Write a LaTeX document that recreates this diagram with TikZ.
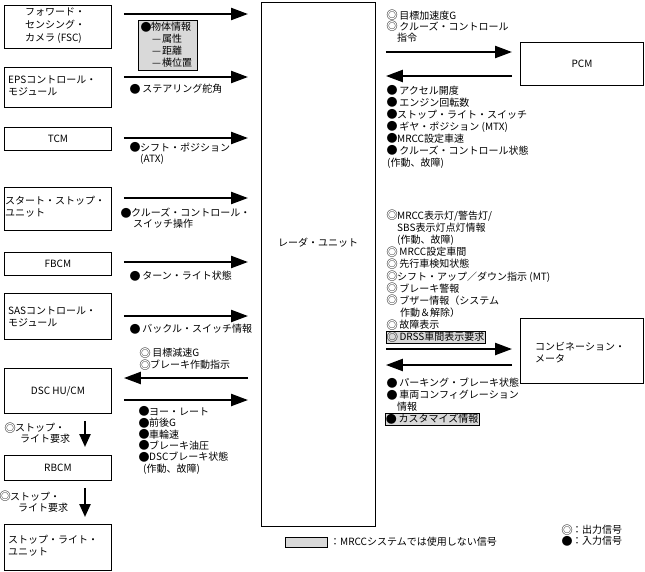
\documentclass[tikz,border=0pt]{standalone}
\usepackage{fontspec}
\setmainfont{Noto Sans CJK JP}
\usetikzlibrary{arrows.meta}
\newcommand\myblt{\makebox[10pt]{\raisebox{-0.4pt}{\fontsize{11}{12}\selectfont ●}}}
\newcommand\mydc{\makebox[10pt]{\raisebox{-0.4pt}{\fontsize{11.5}{12}\selectfont ◎}}}
\begin{document}
\begin{tikzpicture}[x=1pt,y=-1pt,
  every node/.style={inner sep=0pt, font=\fontsize{10}{12}\selectfont},
  box/.style={draw, line width=0.9pt, anchor=north west},
  gbox/.style={draw, line width=0.6pt, fill=gray!30},
  lbl/.style={anchor=west, align=left},
  arr/.style={line width=2.3pt, -{Triangle[length=17pt,width=12pt]}},
  darr/.style={line width=2.3pt, -{Triangle[length=13pt,width=11pt]}}]
\useasboundingbox (0,0) rectangle (645,571);

% ---------- boxes ----------
\node[box, minimum width=107, minimum height=43] (fsc)  at (4,5) {};
\node[box, minimum width=107, minimum height=40] (eps)  at (4,67) {};
\node[box, minimum width=107, minimum height=23] (tcm)  at (4,127) {TCM};
\node[box, minimum width=107, minimum height=43] (ss)   at (4,187) {};
\node[box, minimum width=107, minimum height=23] (fbcm) at (4,252) {FBCM};
\node[box, minimum width=107, minimum height=46] (sas)  at (4,293) {};
\node[box, minimum width=107, minimum height=45] (dsc)  at (4,368) {DSC HU/CM};
\node[box, minimum width=107, minimum height=25] (rbcm) at (4,455) {RBCM};
\node[box, minimum width=107, minimum height=46] (slu)  at (4,524) {};
\node[box, minimum width=114, minimum height=524] (radar) at (261,2) {};
\node[box, minimum width=123, minimum height=43] (pcm)  at (520,42) {PCM};
\node[box, minimum width=123, minimum height=65] (cm)   at (520,318) {};

% box texts
\node[lbl, font=\fontsize{10}{13}\selectfont] (fsct) at (25,26) {フォワード・\\センシング・\\カメラ (FSC)};
\node[lbl] (epst) at (8,85.5) {EPSコントロール・\\モジュール};
\node[lbl] (sst)  at (5,206.5) {スタート・ストップ・\\ユニット};
\node[lbl] (sast) at (8,316.5) {SASコントロール・\\モジュール};
\node[lbl] (slut) at (8,546) {ストップ・ライト・\\ユニット};
\node (radart) at (318,243) {レーダ・ユニット};
\node[lbl] (cmt) at (535,353) {コンビネーション・\\メータ};

% ---------- gray (unused) signal boxes ----------
\node[gbox, anchor=north west, minimum width=59, minimum height=50] (obj) at (138,20) {};
\node[lbl] (objt) at (141,45) {\myblt{}物体情報\\\hspace{11pt}—\hspace{1pt}属性\\\hspace{11pt}—\hspace{1pt}距離\\\hspace{11pt}—\hspace{1pt}横位置};
\node[gbox, anchor=west, inner xsep=1pt, minimum height=12] (drss) at (386,337) {\mydc{} DRSS車間表示要求};
\node[gbox, anchor=west, inner xsep=1pt, minimum height=12] (cust) at (385,419) {\myblt{} カスタマイズ情報};

% ---------- arrows: left column ----------
\draw[arr, shorten <=12pt, shorten >=13pt] (fsc.east |- 0,14)   -- (radar.west |- 0,14);
\draw[arr, shorten <=12pt, shorten >=13pt] (eps.east |- 0,77)   -- (radar.west |- 0,77);
\draw[arr, shorten <=12pt, shorten >=13pt] (tcm.east |- 0,138)  -- (radar.west |- 0,138);
\draw[arr, shorten <=12pt, shorten >=13pt] (ss.east |- 0,198)   -- (radar.west |- 0,198);
\draw[arr, shorten <=12pt, shorten >=13pt] (fbcm.east |- 0,262) -- (radar.west |- 0,262);
\draw[arr, shorten <=12pt, shorten >=13pt] (sas.east |- 0,316)  -- (radar.west |- 0,316);
\draw[arr, shorten <=13pt, shorten >=12pt] (radar.west |- 0,378) -- (dsc.east |- 0,378);
\draw[arr, shorten <=12pt, shorten >=13pt] (dsc.east |- 0,400)  -- (radar.west |- 0,400);
\draw[darr, shorten <=7pt, shorten >=8pt] (85,0 |- dsc.south)  -- (85,0 |- rbcm.north);
\draw[darr, shorten <=7pt, shorten >=7pt] (85,0 |- rbcm.south) -- (85,0 |- slu.north);

% ---------- arrows: right column ----------
\draw[arr, shorten <=10pt, shorten >=8pt] (radar.east |- 0,52)  -- (pcm.west |- 0,52);
\draw[arr, shorten <=8pt, shorten >=10pt] (pcm.west |- 0,76)    -- (radar.east |- 0,76);
\draw[arr, shorten <=10pt, shorten >=8pt] (radar.east |- 0,349) -- (cm.west |- 0,349);
\draw[arr, shorten <=8pt, shorten >=10pt] (cm.west |- 0,365)    -- (radar.east |- 0,365);

% ---------- signal labels: left ----------
\node[lbl] (l-eps)  at (130,89)  {\myblt{} ステアリング舵角};
\node[lbl, font=\fontsize{10}{11}\selectfont] (l-tcm) at (130,153.5) {\myblt{}シフト・ポジション\\\hspace{10pt}(ATX)};
\node[lbl, font=\fontsize{10}{11}\selectfont] (l-ss)  at (121,218.5) {\myblt{}クルーズ・コントロール・\\\hspace{12pt}スイッチ操作};
\node[lbl] (l-fbcm) at (130,276) {\myblt{} ターン・ライト状態};
\node[lbl] (l-sas)  at (130,329) {\myblt{} バックル・スイッチ情報};
\node[lbl] (l-dsco) at (140,359) {\mydc{} 目標減速G\\\mydc{}ブレーキ作動指示};
\node[lbl, font=\fontsize{10}{11.4}\selectfont] (l-dsci) at (139,440.5) {\myblt{}ヨー・レート\\\myblt{}前後G\\\myblt{}車輪速\\\myblt{}ブレーキ油圧\\\myblt{}DSCブレーキ状態\\\hspace{4pt}(作動、故障)};
\node[lbl, font=\fontsize{10}{11}\selectfont] (l-sl1) at (5,433)  {\mydc{}ストップ・\\\hspace{15pt}ライト要求};
\node[lbl, font=\fontsize{10}{11}\selectfont] (l-sl2) at (0,501.5) {\mydc{}ストップ・\\\hspace{18pt}ライト要求};

% ---------- signal labels: right ----------
\node[lbl, font=\fontsize{10}{11}\selectfont] (l-pcmo) at (387,26) {\mydc{} 目標加速度G\\\mydc{} クルーズ・コントロール\\\hspace{10pt}指令};
\node[lbl] (l-pcmi) at (387,127) {\myblt{} アクセル開度\\\myblt{} エンジン回転数\\\myblt{}ストップ・ライト・スイッチ\\\myblt{} ギヤ・ポジション (MTX)\\\myblt{}MRCC設定車速\\\myblt{} クルーズ・コントロール状態\\(作動、故障)};
\node[lbl, font=\fontsize{10}{12.2}\selectfont] (l-cmo) at (387,270) {\mydc{}MRCC表示灯/警告灯/\\\hspace{10pt}SBS表示灯点灯情報\\\hspace{10pt}(作動、故障)\\\mydc{} MRCC設定車間\\\mydc{} 先行車検知状態\\\mydc{}シフト・アップ／ダウン指示 (MT)\\\mydc{} ブレーキ警報\\\mydc{} ブザー情報（システム\\\hspace{13pt}作動＆解除）\\\mydc{} 故障表示};
\node[lbl] (l-cmi) at (387,395) {\myblt{} パーキング・ブレーキ状態\\\myblt{} 車両コンフィグレーション\\\hspace{10pt}情報};

% ---------- legend ----------
\node[gbox, anchor=north west, minimum width=42, minimum height=10] (lg) at (285,537) {};
\node[lbl] (lgt) at (330,542) {：MRCCシステムでは使用しない信号};
\node[lbl, font=\fontsize{10}{11}\selectfont] (lg2) at (562,535.5) {\mydc{}：出力信号\\\myblt{}：入力信号};
\end{tikzpicture}
\end{document}
